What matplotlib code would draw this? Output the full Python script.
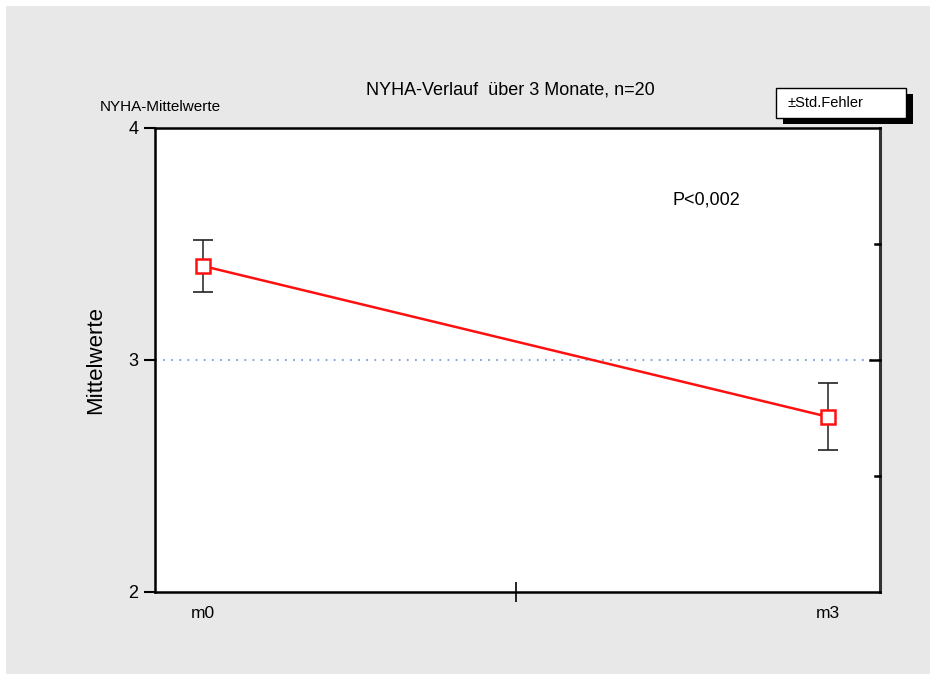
import matplotlib.pyplot as plt
from matplotlib.patches import Rectangle

# data
zeitpunkte = ['m0', 'm3']
x_pos = [0, 1]
mittelwerte = [3.405, 2.755]
std_fehler = [0.112, 0.145]
y_ticks = [2, 3, 4]

plt.rcParams['font.family'] = ['Liberation Sans Narrow', 'Liberation Sans', 'DejaVu Sans']

W, H = 936, 680
fig = plt.figure(figsize=(W / 100, H / 100), dpi=100)
fig.patch.set_facecolor('white')

# grey background panel
fig.patches.append(Rectangle((6 / W, 6 / H), (W - 12) / W, (H - 12) / H,
                             transform=fig.transFigure, facecolor='#e8e8e8',
                             edgecolor='none', zorder=-5))

ax = fig.add_axes([155 / W, 1 - 592 / H, 725 / W, 464 / H])
ax.set_zorder(1)
ax.set_facecolor('white')
ax.set_xlim(-0.077, 1.083)
ax.set_ylim(2, 4)

ax.axhline(3, color='#7a9de0', linestyle=(0, (1, 3.5)), linewidth=1.3, zorder=1)

ax.errorbar(x_pos, mittelwerte, yerr=std_fehler, fmt='none', ecolor='#222222',
            elinewidth=1.1, capsize=7, capthick=1.2, zorder=2)
ax.plot(x_pos, mittelwerte, color='#ff1010', linewidth=1.8, zorder=3)
ax.plot(x_pos, mittelwerte, linestyle='none', marker='s', markersize=9.5,
        markerfacecolor='white', markeredgecolor='#ff1010', markeredgewidth=1.8,
        zorder=4)

for side in ['left', 'bottom', 'top']:
    ax.spines[side].set_linewidth(1.8)
    ax.spines[side].set_color('black')
ax.spines['right'].set_linewidth(2.2)
ax.spines['right'].set_color('#333333')

ax.set_yticks(y_ticks)
ax.set_yticklabels([str(t) for t in y_ticks], fontsize=13)
ax.tick_params(axis='y', direction='out', length=8, width=1.5, pad=4)
ax.set_xticks([0.5])
ax.set_xticklabels([''])
ax.tick_params(axis='x', direction='inout', length=14, width=1.2)

# right side ticks (inward)
ytr = ax.get_yaxis_transform()
for yv, ln in [(2.5, 5), (3, 10), (3.5, 5)]:
    ax.plot([1 - ln / 725, 1], [yv, yv], transform=ytr, color='black',
            linewidth=1.8, clip_on=False, zorder=5)

for xp, lab in zip(x_pos, zeitpunkte):
    ax.text(xp, -0.03, lab, transform=ax.get_xaxis_transform(), ha='center',
            va='top', fontsize=12.5)

ax.set_ylabel('Mittelwerte', fontsize=16, labelpad=16)

fig.text(510 / W, 1 - 90 / H, 'NYHA-Verlauf  über 3 Monate, n=20', ha='center',
         va='center', fontsize=13)
fig.text(100 / W, 1 - 107 / H, 'NYHA-Mittelwerte', ha='left', va='center',
         fontsize=11)
fig.text(706 / W, 1 - 200 / H, 'P<0,002', ha='center', va='center',
         fontsize=13, zorder=10)

# legend box with shadow
fig.patches.append(Rectangle((783 / W, 1 - 124 / H), 130 / W, 30 / H,
                             transform=fig.transFigure, facecolor='black',
                             edgecolor='none', zorder=5))
fig.patches.append(Rectangle((776 / W, 1 - 118 / H), 130 / W, 30 / H,
                             transform=fig.transFigure, facecolor='white',
                             edgecolor='black', linewidth=1, zorder=6))
fig.text(788 / W, 1 - 103 / H, '±Std.Fehler', ha='left', va='center',
         fontsize=10.5, zorder=7)

fig.savefig('out.png', dpi=100)
